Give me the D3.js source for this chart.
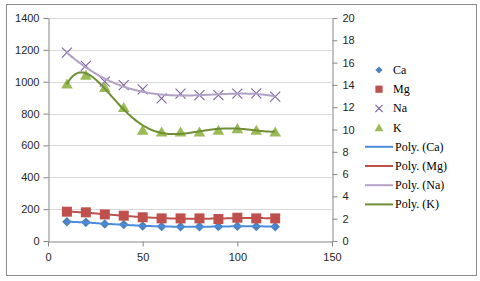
<!DOCTYPE html>
<html>
<head>
<meta charset="utf-8">
<script src="https://cdn.jsdelivr.net/npm/d3@7"></script>
<style>
  body { margin: 0; background: #fff; }
  svg { display: block; }
</style>
</head>
<body>
<div id="chart"></div>
<script>
// sampling distance
let xs = [10, 20, 30, 40, 50, 60, 70, 80, 90, 100, 110, 120];
// left axis series
let ca = [121, 117, 107, 104, 94, 91, 90, 90, 91, 93, 91, 90];
let mg = [184, 180, 167, 159, 149, 142, 142, 142, 138, 146, 142, 142];
let na = [1182, 1099, 1000, 979, 952, 896, 925, 916, 916, 925, 927, 906];
// right axis series
let k = [14.1, 14.9, 13.8, 12.0, 9.95, 9.8, 9.8, 9.8, 9.95, 10.1, 9.95, 9.8];

let leftTicks = [0, 200, 400, 600, 800, 1000, 1200, 1400];
let rightTicks = [0, 2, 4, 6, 8, 10, 12, 14, 16, 18, 20];
let xTicks = [0, 50, 100, 150];

let series = [
	{ name: "Ca", values: ca, axis: "left", color: "#4f81bd", line: "#4a8cdb", shape: "diamond", order: 4 },
	{ name: "Mg", values: mg, axis: "left", color: "#c0504d", line: "#c0504d", shape: "square", order: 4 },
	{ name: "Na", values: na, axis: "left", color: "#8064a2", line: "#b3a2c7", shape: "cross", order: 4 },
	{ name: "K", values: k, axis: "right", color: "#9bbb59", line: "#6f8f35", shape: "triangle", order: 6 },
];

// least squares polynomial, like an Excel "Poly." trendline
let polyFit = (x, y, order) => {
	let n = order + 1;
	let A = d3.range(n).map(() => new Array(n + 1).fill(0));
	x.forEach((xv, i) => {
		let t = xv / 100;
		for (let r = 0; r < n; r++) {
			for (let c = 0; c < n; c++) A[r][c] += Math.pow(t, r + c);
			A[r][n] += y[i] * Math.pow(t, r);
		}
	});
	for (let p = 0; p < n; p++) {
		let m = p;
		for (let r = p + 1; r < n; r++) if (Math.abs(A[r][p]) > Math.abs(A[m][p])) m = r;
		[A[p], A[m]] = [A[m], A[p]];
		for (let r = 0; r < n; r++) {
			if (r === p) continue;
			let f = A[r][p] / A[p][p];
			for (let c = p; c <= n; c++) A[r][c] -= f * A[p][c];
		}
	}
	let coef = A.map((row, i) => row[n] / row[i]);
	return (xv) => coef.reduce((s, c, i) => s + c * Math.pow(xv / 100, i), 0);
};

let width = 480, height = 281;
let margin = { top: 18, left: 48, right: 148, bottom: 40 };

let svg = d3.select("#chart").append("svg")
	.attr("width", width)
	.attr("height", height)
	.style("font-family", "'Liberation Sans', Arial, sans-serif");

svg.append("rect")
	.attr("x", 6.5).attr("y", 4.5)
	.attr("width", 470).attr("height", 271)
	.attr("fill", "#fff")
	.attr("stroke", "#8c8c8c");

let xScale = d3.scaleLinear().domain([0, 150]).range([margin.left, width - margin.right]);
let yLeft = d3.scaleLinear().domain([0, 1400]).range([height - margin.bottom, margin.top]);
let yRight = d3.scaleLinear().domain([0, 20]).range([height - margin.bottom, margin.top]);

// gridlines
svg.append("g")
	.selectAll("line")
	.data(leftTicks.slice(1))
	.join("line")
	.attr("x1", xScale(0)).attr("x2", xScale(150))
	.attr("y1", (d) => Math.round(yLeft(d)) + 0.5)
	.attr("y2", (d) => Math.round(yLeft(d)) + 0.5)
	.attr("stroke", "#d9d9d9");

let styleAxis = (g) => {
	g.select(".domain").attr("stroke", "#868686");
	g.selectAll(".tick line").attr("stroke", "#868686");
	g.selectAll("text").attr("fill", "#262626").style("font-size", "11px");
};

svg.append("g")
	.attr("transform", `translate(${Math.round(xScale(0)) + 0.5},0)`)
	.call(d3.axisLeft(yLeft).tickValues(leftTicks).tickFormat(d3.format("d")).tickSizeInner(5).tickSizeOuter(0).tickPadding(4))
	.call(styleAxis);

svg.append("g")
	.attr("transform", `translate(${Math.round(xScale(150)) + 0.5},0)`)
	.call(d3.axisRight(yRight).tickValues(rightTicks).tickFormat(d3.format("d")).tickSizeInner(5).tickSizeOuter(0).tickPadding(5))
	.call(styleAxis);

svg.append("g")
	.attr("transform", `translate(0,${Math.round(yLeft(0)) + 0.5})`)
	.call(d3.axisBottom(xScale).tickValues(xTicks).tickFormat(d3.format("d")).tickSizeInner(5).tickSizeOuter(0).tickPadding(7))
	.call(styleAxis);

let symbolPath = (shape, r) => {
	if (shape === "diamond") return `M0,${-r}L${r},0L0,${r}L${-r},0Z`;
	if (shape === "square") return `M${-r},${-r}H${r}V${r}H${-r}Z`;
	if (shape === "cross") return `M${-r},${-r}L${r},${r}M${-r},${r}L${r},${-r}`;
	return `M0,${-r}L${r * 1.1},${r * 0.9}H${-r * 1.1}Z`;
};
let markerSize = { diamond: 4.8, square: 5, cross: 5, triangle: 5.3 };
let legendSize = { diamond: 3.6, square: 3.6, cross: 3.6, triangle: 4 };

let applyMarker = (sel, s) => {
	if (s.shape === "cross") sel.attr("fill", "none").attr("stroke", s.color).attr("stroke-width", 1.1);
	else sel.attr("fill", s.color).attr("stroke", "none");
};

let trendX = d3.range(10, 120.01, 0.5);

// markers first, trend lines over them
series.forEach((s) => {
	let y = s.axis === "left" ? yLeft : yRight;
	svg.append("g")
		.selectAll("path")
		.data(s.values)
		.join("path")
		.attr("d", symbolPath(s.shape, markerSize[s.shape]))
		.attr("transform", (d, i) => `translate(${xScale(xs[i])},${y(d)})`)
		.call(applyMarker, s);
});

series.forEach((s) => {
	let y = s.axis === "left" ? yLeft : yRight;
	let fit = polyFit(xs, s.values, s.order);
	svg.append("path")
		.datum(trendX)
		.attr("fill", "none")
		.attr("stroke", s.line)
		.attr("stroke-width", 2)
		.attr("d", d3.line().x((d) => xScale(d)).y((d) => y(fit(d))));
});

// legend
let legend = svg.append("g").style("font-family", "'Liberation Serif', 'Times New Roman', serif");
let legY = 70, step = 19.2;

series.forEach((s, i) => {
	let g = legend.append("g").attr("transform", `translate(0,${legY + i * step})`);
	g.append("path")
		.attr("d", symbolPath(s.shape, legendSize[s.shape]))
		.attr("transform", "translate(379,0)")
		.call(applyMarker, s);
	g.append("text").attr("x", 393).attr("y", 4).style("font-size", "12px").attr("fill", "#000").text(s.name);
});

series.forEach((s, i) => {
	let g = legend.append("g").attr("transform", `translate(0,${legY + (i + 4) * step})`);
	g.append("line").attr("x1", 365).attr("x2", 393).attr("stroke", s.line).attr("stroke-width", 2);
	g.append("text").attr("x", 395).attr("y", 4).style("font-size", "12px").attr("fill", "#000").text(`Poly. (${s.name})`);
});
</script>
</body>
</html>
